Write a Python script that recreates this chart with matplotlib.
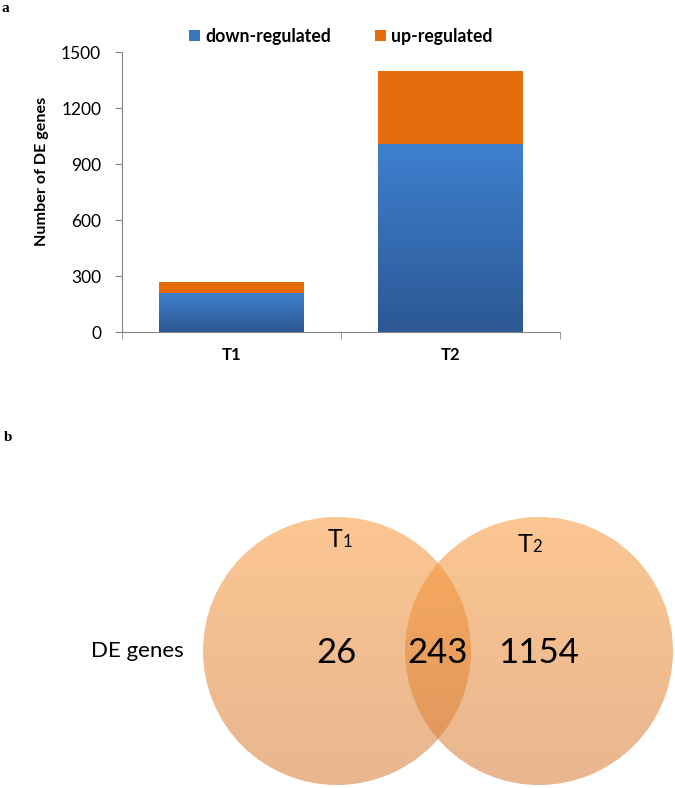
import numpy as np
import matplotlib
matplotlib.use('Agg')
import matplotlib.pyplot as plt
from matplotlib.patches import Ellipse
from matplotlib.colors import LinearSegmentedColormap

groups = ['T1', 'T2']
down = [208, 1005]
up = [61, 392]
yticks = [0, 300, 600, 900, 1200, 1500]
venn_counts = [26, 243, 1154]  # T1 only, shared, T2 only

plt.rcParams['font.family'] = ['Lato', 'DejaVu Sans']

W, H = 675, 788
fig = plt.figure(figsize=(W / 100, H / 100), dpi=100)

# ---- panel a: stacked bars ----
ax = fig.add_axes([122 / W, 1 - 332 / H, 438 / W, 280 / H])
x = np.arange(len(groups))
bars_down = ax.bar(x, down, width=0.66, color='#3A75C0', label='down-regulated', zorder=2)
bars_up = ax.bar(x, up, bottom=down, width=0.66, color='#E46C0A', label='up-regulated', zorder=2)

blue = LinearSegmentedColormap.from_list('blue_grad', ['#2C5894', '#3E80CF'])
grad = np.linspace(0, 1, 256).reshape(-1, 1)
for b in bars_down:
    x0, y0 = b.get_x(), b.get_y()
    im = ax.imshow(grad, cmap=blue, origin='lower', aspect='auto', zorder=3,
                   extent=[x0, x0 + b.get_width(), y0, y0 + b.get_height()])
    im.set_clip_path(b)

ax.set_xlim(-0.5, 1.5)
ax.set_ylim(0, 1500)
ax.set_yticks(yticks)
ax.set_xticks(x)
ax.set_xticklabels(groups, fontweight='bold', fontsize=12)
ax.set_xticks([-0.5, 0.5, 1.5], minor=True)
ax.tick_params(axis='x', which='major', length=0, pad=11)
ax.tick_params(axis='x', which='minor', length=5, direction='out', color='#868686')
ax.tick_params(axis='y', length=5, direction='out', color='#868686', labelsize=12.5, pad=10)
for s in ['top', 'right']:
    ax.spines[s].set_visible(False)
for s in ['left', 'bottom']:
    ax.spines[s].set_color('#868686')

ax.legend(loc='center', bbox_to_anchor=(0.5, 1.055), ncol=2, frameon=False,
          prop={'weight': 'bold', 'size': 12.7}, handlelength=0.6, handleheight=0.6,
          handletextpad=0.3, columnspacing=2.5)

fig.text(42 / W, 1 - 171 / H, 'Number of DE genes', rotation=90, ha='center', va='center',
         fontweight='bold', fontsize=11.6)

fig.text(2 / W, 1 - 8 / H, 'a', family='Liberation Serif', fontweight='bold', fontsize=11,
         ha='left', va='center')
fig.text(4 / W, 1 - 438 / H, 'b', family='Liberation Serif', fontweight='bold', fontsize=11,
         ha='left', va='center')

# ---- panel b: Venn ----
vx = fig.add_axes([0, 0, 1, 348 / H])
vx.axis('off')

centers = [(337, 651), (539, 651)]
rx, ry = 134, 134
alpha = 0.55
c_top = np.array([249, 152, 56]) / 255
c_bot = np.array([214, 122, 52]) / 255
t = np.linspace(0, 1, 256).reshape(-1, 1, 1)
rgba = np.concatenate([c_top * (1 - t) + c_bot * t, np.full((256, 1, 1), alpha)], axis=2)

for cx, cy in centers:
    e = Ellipse((cx, cy), 2 * rx, 2 * ry, facecolor='none', edgecolor='none')
    vx.add_patch(e)
    im = vx.imshow(rgba, origin='upper', aspect='auto', zorder=1,
                   extent=[cx - rx, cx + rx, cy + ry, cy - ry])
    im.set_clip_path(e)

vx.set_xlim(0, W)
vx.set_ylim(H, 440)

vx.text(137, 651, 'DE genes', ha='center', va='center', fontsize=16)
num_x = [337, 438, 539]
for nx, n in zip(num_x, venn_counts):
    vx.text(nx, 653, str(n), ha='center', va='center', fontsize=25, zorder=3)

for lab, sub, lx, ly in [('T', '1', 342, 547), ('T', '2', 532, 552)]:
    vx.text(lx, ly, lab, ha='right', va='baseline', fontsize=18, zorder=3)
    vx.text(lx + 0.5, ly, sub, ha='left', va='baseline', fontsize=12, zorder=3)

fig.savefig('out.png', dpi=100)
